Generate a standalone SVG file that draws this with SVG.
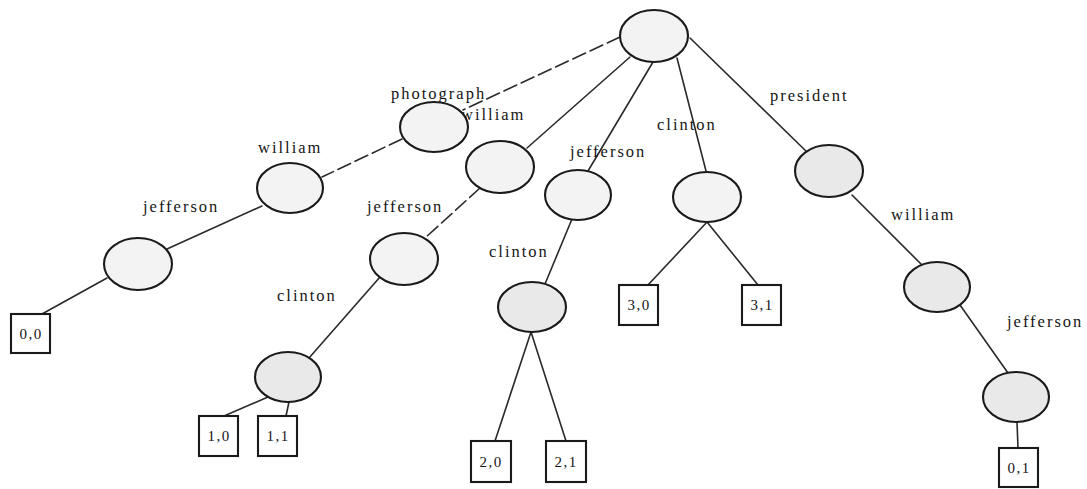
<svg xmlns="http://www.w3.org/2000/svg" width="1087" height="489" viewBox="0 0 1087 489">
  <style>
    .bg { fill: #ffffff; }
    .edge { stroke: #2a2a2a; stroke-width: 1.6; fill: none; stroke-linecap: round; }
    .broken { stroke-dasharray: 14 5; }
    .node ellipse { fill: #f3f3f3; stroke: #1a1a1a; stroke-width: 2.1; }
    .node.shade ellipse { fill: #e9e9e9; }
    .leaf rect { fill: #ffffff; stroke: #1a1a1a; stroke-width: 2.1; }
    text { font-family: "Liberation Serif", "Times New Roman", serif; fill: #151515; }
    .lbl { font-size: 16.5px; letter-spacing: 2px; }
    .num { font-size: 15px; letter-spacing: 1.5px; text-anchor: middle; }
  </style>

  <rect class="bg" x="0" y="0" width="1087" height="489"/>

  <!-- tree edges -->
  <g id="connectors">
    <line class="edge broken" x1="620" y1="37" x2="463" y2="110"/>
    <line class="edge broken" x1="402" y1="139" x2="322" y2="177"/>
    <line class="edge" x1="262" y1="206" x2="167" y2="249"/>
    <line class="edge" x1="107" y1="278" x2="42" y2="314"/>

    <line class="edge" x1="630" y1="57" x2="527" y2="148"/>
    <line class="edge broken" x1="480" y1="188" x2="425" y2="238"/>
    <line class="edge" x1="380" y1="277" x2="309" y2="358"/>
    <line class="edge" x1="268" y1="397" x2="224" y2="416"/>
    <line class="edge" x1="289" y1="402" x2="286" y2="416"/>

    <line class="edge" x1="653" y1="62" x2="588" y2="171"/>
    <line class="edge" x1="572" y1="219" x2="545" y2="284"/>
    <line class="edge" x1="531" y1="332" x2="495" y2="441"/>
    <line class="edge" x1="531" y1="332" x2="566" y2="441"/>

    <line class="edge" x1="677" y1="58" x2="706" y2="171"/>
    <line class="edge" x1="707" y1="222" x2="648" y2="285"/>
    <line class="edge" x1="707" y1="222" x2="758" y2="285"/>

    <line class="edge" x1="690" y1="38" x2="808" y2="153"/>
    <line class="edge" x1="852" y1="195" x2="922" y2="265"/>
    <line class="edge" x1="960" y1="305" x2="1008" y2="373"/>
    <line class="edge" x1="1017" y1="422" x2="1018" y2="448"/>
  </g>

  <!-- edge labels -->
  <g id="labels">
    <text class="lbl" x="391" y="99">photograph</text>
    <text class="lbl" x="258" y="153">william</text>
    <text class="lbl" x="143" y="212">jefferson</text>
    <text class="lbl" x="461" y="120">william</text>
    <text class="lbl" x="367" y="212">jefferson</text>
    <text class="lbl" x="277" y="301">clinton</text>
    <text class="lbl" x="570" y="157">jefferson</text>
    <text class="lbl" x="489" y="257">clinton</text>
    <text class="lbl" x="657" y="130">clinton</text>
    <text class="lbl" x="770" y="101">president</text>
    <text class="lbl" x="891" y="220">william</text>
    <text class="lbl" x="1007" y="327">jefferson</text>
  </g>

  <!-- internal nodes -->
  <g id="n-root" class="node"><ellipse cx="654" cy="36" rx="34" ry="26"/></g>
  <g id="n-photograph" class="node"><ellipse cx="434" cy="127" rx="34" ry="25"/></g>
  <g id="n-photograph-william" class="node"><ellipse cx="290" cy="188" rx="33" ry="25"/></g>
  <g id="n-photograph-william-jefferson" class="node"><ellipse cx="138" cy="264" rx="34" ry="26"/></g>
  <g id="n-william" class="node"><ellipse cx="500" cy="167" rx="34" ry="26"/></g>
  <g id="n-william-jefferson" class="node"><ellipse cx="404" cy="259" rx="34" ry="26"/></g>
  <g id="n-william-jefferson-clinton" class="node shade"><ellipse cx="288" cy="377" rx="33" ry="25"/></g>
  <g id="n-jefferson" class="node"><ellipse cx="578" cy="195" rx="33" ry="25"/></g>
  <g id="n-jefferson-clinton" class="node shade"><ellipse cx="532" cy="307" rx="34" ry="25"/></g>
  <g id="n-clinton" class="node"><ellipse cx="707" cy="197" rx="34" ry="25"/></g>
  <g id="n-president" class="node shade"><ellipse cx="829" cy="171" rx="34" ry="26"/></g>
  <g id="n-president-william" class="node shade"><ellipse cx="937" cy="287" rx="33" ry="25"/></g>
  <g id="n-president-william-jefferson" class="node shade"><ellipse cx="1016" cy="397" rx="33" ry="25"/></g>

  <!-- leaves -->
  <g id="leaf-0-0" class="leaf"><rect x="11" y="314" width="39" height="39"/><text class="num" x="31" y="339">0,0</text></g>
  <g id="leaf-1-0" class="leaf"><rect x="199" y="416" width="39" height="40"/><text class="num" x="219" y="441">1,0</text></g>
  <g id="leaf-1-1" class="leaf"><rect x="258" y="416" width="39" height="40"/><text class="num" x="278" y="441">1,1</text></g>
  <g id="leaf-2-0" class="leaf"><rect x="471" y="441" width="40" height="41"/><text class="num" x="491" y="467">2,0</text></g>
  <g id="leaf-2-1" class="leaf"><rect x="546" y="441" width="40" height="41"/><text class="num" x="566" y="467">2,1</text></g>
  <g id="leaf-3-0" class="leaf"><rect x="619" y="285" width="39" height="40"/><text class="num" x="639" y="310">3,0</text></g>
  <g id="leaf-3-1" class="leaf"><rect x="742" y="285" width="39" height="40"/><text class="num" x="762" y="310">3,1</text></g>
  <g id="leaf-0-1" class="leaf"><rect x="999" y="448" width="39" height="39"/><text class="num" x="1019" y="473">0,1</text></g>
</svg>
